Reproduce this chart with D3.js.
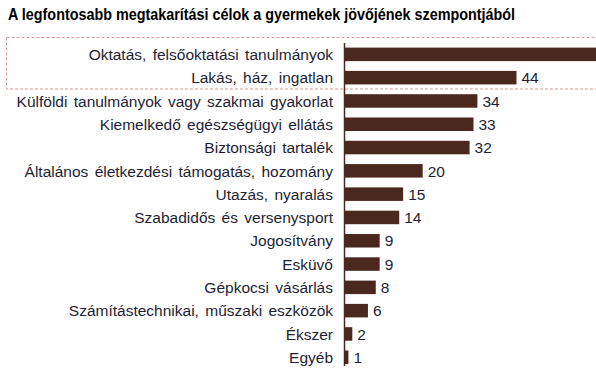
<!DOCTYPE html>
<html lang="hu">
<head>
<meta charset="UTF-8">
<title>Megtakarítási célok</title>
<script src="https://d3js.org/d3.v7.min.js"></script>
<style>
    body { margin: 0; background: #fff; overflow: hidden; }
    svg { display: block; font-family: Arial, "Liberation Sans", sans-serif; }
    .label { font-size: 15.5px; fill: #1e1e32; word-spacing: 2px; }
    .value { font-size: 15.5px; fill: #1e1e32; }
    .title { font-size: 16px; font-weight: bold; fill: #000; }
</style>
</head>
<body>
<div id="chart"></div>
<script>
    // Categories and values (top to bottom)
    const categories = [
        "Oktatás, felsőoktatási tanulmányok",
        "Lakás, ház, ingatlan",
        "Külföldi tanulmányok vagy szakmai gyakorlat",
        "Kiemelkedő egészségügyi ellátás",
        "Biztonsági tartalék",
        "Általános életkezdési támogatás, hozomány",
        "Utazás, nyaralás",
        "Szabadidős és versenysport",
        "Jogosítvány",
        "Esküvő",
        "Gépkocsi vásárlás",
        "Számítástechnikai, műszaki eszközök",
        "Ékszer",
        "Egyéb"
    ];
    const values = [66, 44, 34, 33, 32, 20, 15, 14, 9, 9, 8, 6, 2, 1];

    const width = 596, height = 372;

    const svg = d3.select("#chart").append("svg")
        .attr("width", width)
        .attr("height", height);

    svg.append("text")
        .attr("class", "title")
        .attr("x", 8)
        .attr("y", 19.5)
        .attr("textLength", 507)
        .attr("lengthAdjust", "spacingAndGlyphs")
        .text("A legfontosabb megtakarítási célok a gyermekek jövőjének szempontjából");

    // Scales
    const y = d3.scaleBand()
        .domain(categories)
        .range([42.7, 368.9])
        .paddingInner(0.42)
        .paddingOuter(0.21);

    const x = d3.scaleLinear()
        .domain([0, 44])
        .range([344.5, 516.5]);

    const data = categories.map((c, i) => ({ cat: c, val: values[i] }));

    // Highlight box around the top two rows
    svg.append("rect")
        .attr("x", 6.5)
        .attr("y", 37.5)
        .attr("width", 600)
        .attr("height", 51.5)
        .attr("fill", "none")
        .attr("stroke", "#d99a9a")
        .attr("stroke-dasharray", "3,2");

    // Bars
    svg.selectAll(".bar")
        .data(data)
        .join("rect")
        .attr("class", "bar")
        .attr("x", x(0))
        .attr("y", d => y(d.cat))
        .attr("width", d => x(d.val) - x(0))
        .attr("height", y.bandwidth())
        .attr("fill", "#4a2820");

    // Axis line
    svg.append("line")
        .attr("x1", 344.5).attr("x2", 344.5)
        .attr("y1", 43).attr("y2", 366)
        .attr("stroke", "#4a2820")
        .attr("stroke-width", 1.5);

    // Category labels
    svg.selectAll(".label")
        .data(data)
        .join("text")
        .attr("class", "label")
        .attr("x", 333)
        .attr("y", d => y(d.cat) + y.bandwidth() / 2)
        .attr("dy", "0.37em")
        .attr("text-anchor", "end")
        .text(d => d.cat);

    // Value labels; the top bar runs off the edge, so its label is not shown
    svg.selectAll(".value")
        .data(data.filter(d => x(d.val) + 5 < width))
        .join("text")
        .attr("class", "value")
        .attr("x", d => x(d.val) + 5)
        .attr("y", d => y(d.cat) + y.bandwidth() / 2)
        .attr("dy", "0.37em")
        .text(d => d.val);
</script>
</body>
</html>
